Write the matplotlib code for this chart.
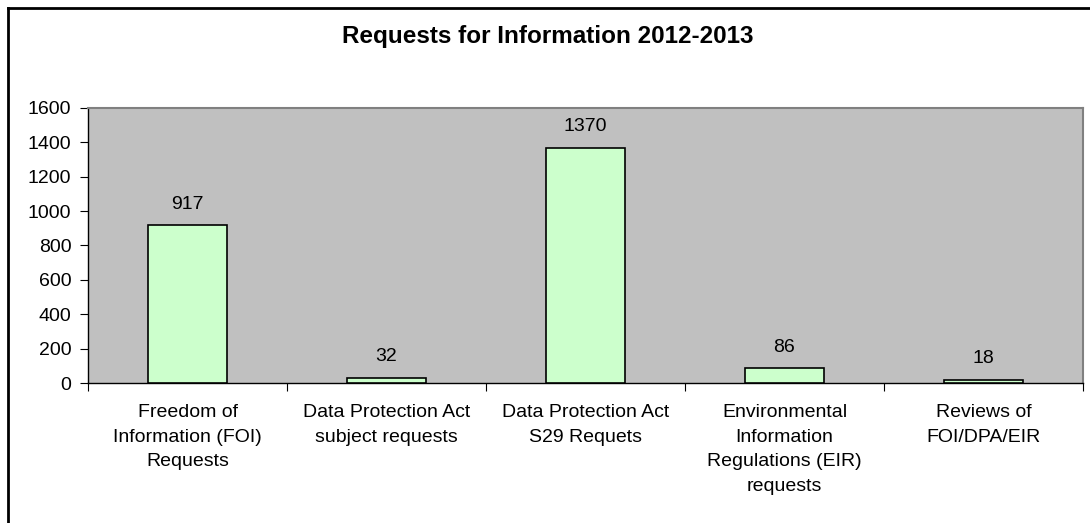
import matplotlib.pyplot as plt
from matplotlib.lines import Line2D

plt.rcParams["font.family"] = ["Liberation Sans", "DejaVu Sans"]

categories = [
    "Freedom of\nInformation (FOI)\nRequests",
    "Data Protection Act\nsubject requests",
    "Data Protection Act\nS29 Requets",
    "Environmental\nInformation\nRegulations (EIR)\nrequests",
    "Reviews of\nFOI/DPA/EIR",
]
values = [917, 32, 1370, 86, 18]
y_ticks = [0, 200, 400, 600, 800, 1000, 1200, 1400, 1600]

fig = plt.figure(figsize=(10.9, 5.23), dpi=100)

# chart frame (cropped at right and bottom like the source)
W, H = 1090, 523
fig.add_artist(Line2D([8 / W, 1], [1 - 8 / H, 1 - 8 / H], color="black", lw=2, transform=fig.transFigure))
fig.add_artist(Line2D([8 / W, 8 / W], [0, 1 - 8 / H], color="black", lw=2, transform=fig.transFigure))

ax = fig.add_axes([88 / W, (H - 383) / H, 995 / W, 275 / H])
ax.set_facecolor("#C0C0C0")

x = list(range(len(values)))
bars = ax.bar(x, values, width=0.4, color="#CCFFCC", edgecolor="black", linewidth=1.2, zorder=3)

for xi, v in zip(x, values):
    ax.annotate(str(v), (xi, v), xytext=(0, 9), textcoords="offset points",
                ha="center", va="bottom", fontsize=14)

ax.set_xlim(-0.5, len(values) - 0.5)
ax.set_ylim(0, 1600)
ax.set_yticks(y_ticks)
ax.set_yticklabels([str(t) for t in y_ticks], fontsize=14)

ax.set_xticks([i - 0.5 for i in range(len(values) + 1)])
ax.set_xticklabels([])
ax.set_xticks(x, minor=True)
ax.set_xticklabels(categories, minor=True, fontsize=14, linespacing=1.6)
ax.tick_params(axis="x", which="minor", length=0, pad=15)
ax.tick_params(axis="x", which="major", length=6, direction="out", color="black")
ax.tick_params(axis="y", length=6, direction="out", pad=6)

for side in ["top", "right"]:
    ax.spines[side].set_color("#808080")
    ax.spines[side].set_linewidth(1.5)
for side in ["left", "bottom"]:
    ax.spines[side].set_color("black")
    ax.spines[side].set_linewidth(1)

fig.text(548 / W, 1 - 36 / H, "Requests for Information 2012-2013",
         ha="center", va="center", fontsize=17.5, fontweight="bold")

fig.savefig("out.png", dpi=100)
